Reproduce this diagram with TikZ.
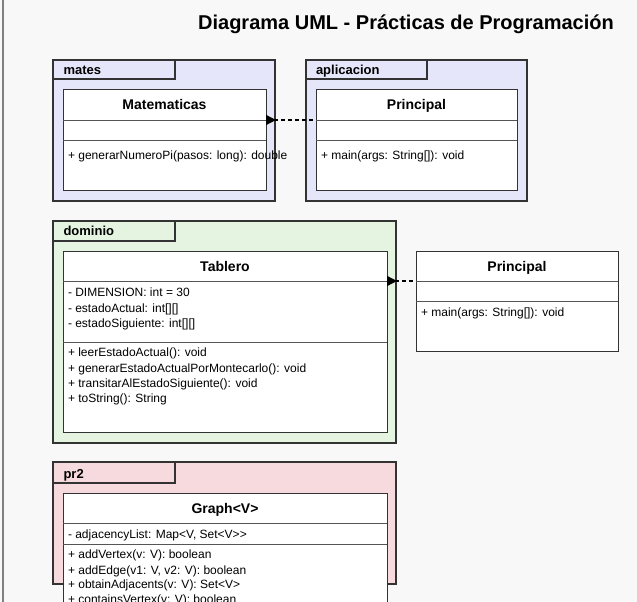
\documentclass[tikz,border=0pt]{standalone}
\usepackage{fontspec}
\setmainfont[Ligatures=NoCommon]{Liberation Sans}
\usetikzlibrary{arrows.meta}

\definecolor{canvas}{HTML}{F8F8F8}
\definecolor{frameline}{HTML}{808080}
\definecolor{boxline}{HTML}{333333}
\definecolor{sepgray}{HTML}{555555}
\definecolor{lavenderpkg}{HTML}{E6E6FA}
\definecolor{greenpkg}{HTML}{E4F4E0}
\definecolor{pinkpkg}{HTML}{F6DADD}

\tikzset{
  pkgbox/.style={draw=boxline, line width=1.1pt, rectangle, inner sep=0pt, outer sep=0pt, anchor=north west},
  classbox/.style={draw=boxline, fill=white, line width=1pt, rectangle, inner sep=0pt, outer sep=0pt, anchor=north west},
  sepline/.style={draw=sepgray, line width=1pt},
  member/.style={anchor=base west, inner sep=0pt, outer sep=0pt, font=\fontsize{12}{14}\selectfont},
  cname/.style={anchor=base, inner sep=0pt, outer sep=0pt, font=\bfseries\fontsize{14}{16}\selectfont},
  pname/.style={anchor=base west, inner sep=0pt, outer sep=0pt, font=\bfseries\fontsize{13}{15}\selectfont},
  dep/.style={draw=black, line width=1.3pt, dash pattern=on 4pt off 3pt,
    {Triangle[reversed, length=10pt, width=10pt]}-},
}

\begin{document}
\begin{tikzpicture}[x=1pt, y=-1pt]
\clip (0,0) rectangle (637,602);
\fill[canvas] (0,0) rectangle (637,602);
\draw[frameline, line width=1.5pt] (3,0) -- (3,602);

% title
\node[anchor=base, inner sep=0pt, font=\bfseries\fontsize{20}{24}\selectfont] (title) at (406,29.5)
  {Diagrama UML - Prácticas de Programación};

% ---------- package mates ----------
\node[pkgbox, fill=lavenderpkg, minimum width=222pt, minimum height=141pt] (pmates) at (53,60) {};
\node[pkgbox, fill=lavenderpkg, minimum width=122pt, minimum height=19pt] (tmates) at (53,60) {};
\node[pname] (lmates) at (63.5,74.6) {mates};

\node[classbox, minimum width=203pt, minimum height=101pt] (mat) at (63,89) {};
\draw[sepline] (mat.west |- 0,120) -- (mat.east |- 0,120);
\draw[sepline] (mat.west |- 0,140) -- (mat.east |- 0,140);
\node[cname] (matname) at (164.5,110) {Matematicas};
\node[member] (matm1) at (68,159.5) {+ generarNumeroPi(pasos: long): double};

% ---------- package aplicacion ----------
\node[pkgbox, fill=lavenderpkg, minimum width=221pt, minimum height=141pt] (papl) at (306,60) {};
\node[pkgbox, fill=lavenderpkg, minimum width=121pt, minimum height=19pt] (tapl) at (306,60) {};
\node[pname] (lapl) at (316,74.6) {aplicacion};

\node[classbox, minimum width=201pt, minimum height=101pt] (pri) at (316,89) {};
\draw[sepline] (pri.west |- 0,120) -- (pri.east |- 0,120);
\draw[sepline] (pri.west |- 0,140) -- (pri.east |- 0,140);
\node[cname] (priname) at (416.5,110) {Principal};
\node[member] (prim1) at (321,159.5) {+ main(args: String[]): void};

\draw[dep] (mat.east |- 0,120) -- (pri.west |- 0,120);

% ---------- package dominio ----------
\node[pkgbox, fill=greenpkg, minimum width=343pt, minimum height=222pt] (pdom) at (53,221) {};
\node[pkgbox, fill=greenpkg, minimum width=122pt, minimum height=20pt] (tdom) at (53,221) {};
\node[pname] (ldom) at (63.5,235.5) {dominio};

\node[classbox, minimum width=324pt, minimum height=181pt] (tab) at (63,251) {};
\draw[sepline] (tab.west |- 0,281) -- (tab.east |- 0,281);
\draw[sepline] (tab.west |- 0,342) -- (tab.east |- 0,342);
\node[cname] (tabname) at (225,271) {Tablero};
\node[member] (taba1) at (68,296) {- DIMENSION: int = 30};
\node[member] (taba2) at (68,312) {- estadoActual: int[][]};
\node[member] (taba3) at (68,327.5) {- estadoSiguiente: int[][]};
\node[member] (tabm1) at (68,356.5) {+ leerEstadoActual(): void};
\node[member] (tabm2) at (68,372) {+ generarEstadoActualPorMontecarlo(): void};
\node[member] (tabm3) at (68,387) {+ transitarAlEstadoSiguiente(): void};
\node[member] (tabm4) at (68,402) {+ toString(): String};

% ---------- second Principal ----------
\node[classbox, minimum width=202pt, minimum height=100pt] (pri2) at (416,251) {};
\draw[sepline] (pri2.west |- 0,281) -- (pri2.east |- 0,281);
\draw[sepline] (pri2.west |- 0,301) -- (pri2.east |- 0,301);
\node[cname] (pri2name) at (517,271) {Principal};
\node[member] (pri2m1) at (421,316.5) {+ main(args: String[]): void};

\draw[dep] (tab.east |- 0,281) -- (pri2.west |- 0,281);

% ---------- package pr2 ----------
\node[pkgbox, fill=pinkpkg, minimum width=343pt, minimum height=122pt] (ppr2) at (53,462) {};
\node[pkgbox, fill=pinkpkg, minimum width=122pt, minimum height=21pt] (tpr2) at (53,462) {};
\node[pname] (lpr2) at (63.5,478.5) {pr2};

\node[classbox, minimum width=324pt, minimum height=140pt] (gra) at (63,493) {};
\draw[sepline] (gra.west |- 0,523) -- (gra.east |- 0,523);
\draw[sepline] (gra.west |- 0,544) -- (gra.east |- 0,544);
\node[cname] (graname) at (225,513.5) {Graph<V>};
\node[member] (graa1) at (68,538) {- adjacencyList: Map<V, Set<V>{}>};
\node[member] (gram1) at (68,558.5) {+ addVertex(v: V): boolean};
\node[member] (gram2) at (68,574) {+ addEdge(v1: V, v2: V): boolean};
\node[member] (gram3) at (68,588.5) {+ obtainAdjacents(v: V): Set<V>};
\node[member] (gram4) at (68,603.3) {+ containsVertex(v: V): boolean};
\end{tikzpicture}
\end{document}
